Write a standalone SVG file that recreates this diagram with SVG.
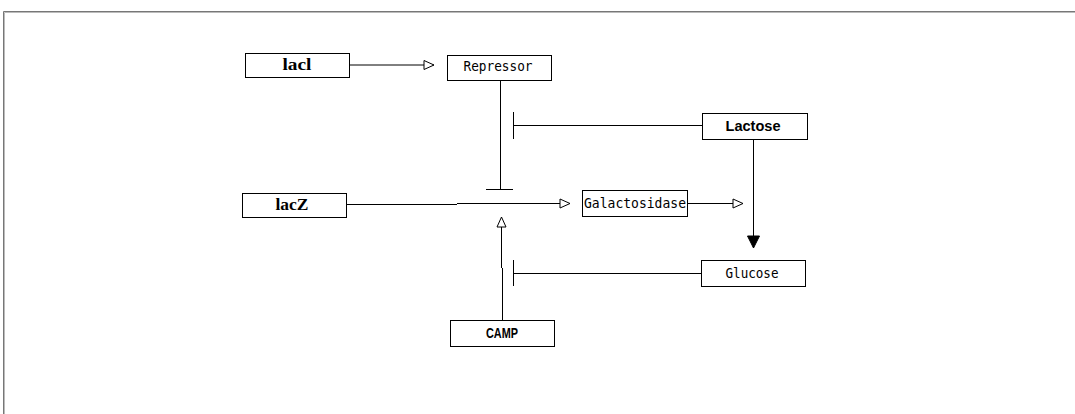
<svg xmlns="http://www.w3.org/2000/svg" width="1075" height="414" viewBox="0 0 1075 414">
<defs>
<style>
.box{fill:#fff;stroke:#000;stroke-width:1}
.ln{fill:none;stroke:#000;stroke-width:1}
.serif{font-family:"Liberation Serif","Times New Roman",serif;font-weight:bold;font-size:16px;text-anchor:middle}
.mono{font-family:"DejaVu Sans Mono","Liberation Mono",monospace;font-size:13.5px;text-anchor:middle}
.sansb{font-family:"Liberation Sans",Arial,sans-serif;font-weight:bold;font-size:14px;text-anchor:middle}
</style>
<marker id="open" viewBox="0 0 12 12" refX="11" refY="6" markerWidth="12" markerHeight="12" markerUnits="userSpaceOnUse" orient="auto">
<path d="M1,1.5 L11,6 L1,10.5 Z" fill="#fff" stroke="#000" stroke-width="1"/>
</marker>
<marker id="filled" viewBox="0 0 14 14" refX="13" refY="7" markerWidth="14" markerHeight="14" markerUnits="userSpaceOnUse" orient="auto">
<path d="M1,1 L13,7 L1,13 Z" fill="#000" stroke="#000" stroke-width="1"/>
</marker>
</defs>
<rect x="0" y="0" width="1075" height="414" fill="#fff"/>
<path d="M3.5,414 V11.5 H1075" fill="none" stroke="#777" stroke-width="1"/>
<path d="M4.5,414 V12.5 H1075" fill="none" stroke="#bbb" stroke-width="1"/>
<g id="connectors">
<path class="ln" d="M349,65 H434" marker-end="url(#open)"/>
<path class="ln" d="M500.5,80 V189.5"/>
<path class="ln" d="M486,189.5 H513"/>
<path class="ln" d="M702,125.5 H513.5"/>
<path class="ln" d="M513.5,112 V139"/>
<path class="ln" d="M346,204.5 H457"/>
<path class="ln" d="M457,203.5 H570" marker-end="url(#open)"/>
<path class="ln" d="M687,203.5 H743" marker-end="url(#open)"/>
<path class="ln" d="M753.5,139 V248" marker-end="url(#filled)"/>
<path class="ln" d="M701,273.5 H513.5"/>
<path class="ln" d="M513.5,260 V286"/>
<path class="ln" d="M502.5,320 V268 M501.5,268 V217" marker-end="url(#open)"/>
</g>
<g id="lacI">
<rect class="box" x="245.5" y="53.5" width="104" height="24"/>
<text class="serif" x="297" y="70" textLength="29" lengthAdjust="spacingAndGlyphs">lacl</text>
</g>
<g id="Repressor">
<rect class="box" x="447.5" y="55.5" width="104" height="25"/>
<text class="mono" x="498" y="71" textLength="69" lengthAdjust="spacingAndGlyphs">Repressor</text>
</g>
<g id="Lactose">
<rect class="box" x="702.5" y="113.5" width="105" height="26"/>
<text class="sansb" x="753" y="131" textLength="55" lengthAdjust="spacingAndGlyphs">Lactose</text>
</g>
<g id="lacZ">
<rect class="box" x="242.5" y="193.5" width="104" height="24"/>
<text class="serif" x="292" y="210" textLength="33" lengthAdjust="spacingAndGlyphs">lacZ</text>
</g>
<g id="Galactosidase">
<rect class="box" x="582.5" y="190.5" width="105" height="26"/>
<text class="mono" x="635" y="208" textLength="102" lengthAdjust="spacingAndGlyphs">Galactosidase</text>
</g>
<g id="Glucose">
<rect class="box" x="701.5" y="260.5" width="104" height="26"/>
<text class="mono" x="752" y="278" textLength="53" lengthAdjust="spacingAndGlyphs">Glucose</text>
</g>
<g id="CAMP">
<rect class="box" x="450.5" y="320.5" width="104" height="26"/>
<text class="sansb" x="502" y="338" textLength="32" lengthAdjust="spacingAndGlyphs">CAMP</text>
</g>
</svg>
